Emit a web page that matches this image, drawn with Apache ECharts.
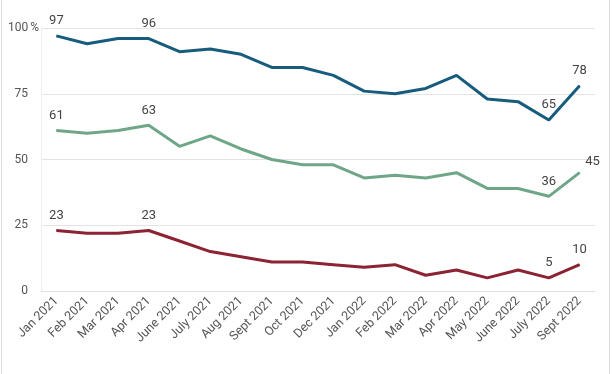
<!DOCTYPE html>
<html>
<head>
<meta charset="utf-8">
<script src="https://cdn.jsdelivr.net/npm/echarts@6/dist/echarts.min.js"></script>
<style>
html,body{margin:0;padding:0;background:#fff;}
#c{width:612px;height:374px;}
</style>
</head>
<body>
<div id="c"></div>
<script>
const categories = ['Jan 2021','Feb 2021','Mar 2021','Apr 2021','June 2021','July 2021','Aug 2021','Sept 2021','Oct 2021','Dec 2021','Jan 2022','Feb 2022','Mar 2022','Apr 2022','May 2022','June 2022','July 2022','Sept 2022'];
const blueValues  = [97,94,96,96,91,92,90,85,85,82,76,75,77,82,73,72,65,78];
const greenValues = [61,60,61,63,55,59,54,50,48,48,43,44,43,45,39,39,36,45];
const redValues   = [23,22,22,23,19,15,13,11,11,10,9,10,6,8,5,8,5,10];
const yTicks = [0,25,50,75,100];
const labeledIdx = [0,3,16,17];

function withLabels(vals){
  return vals.map((v,i)=>{
    if(labeledIdx.indexOf(i) < 0) return v;
    return {value:v, label:{show:true, position:'top', distance:8}};
  });
}

const chart = echarts.init(document.getElementById('c'), null, {renderer:'canvas'});
const labelStyle = {color:'#444', fontSize:13, fontFamily:'Roboto'};
function lineSeries(name, vals, color, shiftIdx){
  return {
    name, type:'line', data: withLabels(vals),
    symbol:'circle', symbolSize:1, showSymbol:true, showAllSymbol:true,
    smooth:false,
    lineStyle:{color, width:3},
    itemStyle:{color},
    label:Object.assign({show:false}, labelStyle),
    labelLayout: function(p){
      if(shiftIdx !== undefined && p.dataIndex === shiftIdx) return {dx:13, dy:4, hideOverlap:false};
      return {hideOverlap:false};
    },
    emphasis:{disabled:true},
    z:3
  };
}
chart.setOption({
  animation:false,
  backgroundColor:'#fff',
  grid:{left:41, right:17, top:28, bottom:83, containLabel:false},
  xAxis:{
    type:'category', data:categories, boundaryGap:true,
    axisLine:{show:true, lineStyle:{color:'#e0e0e0', width:1}},
    axisTick:{show:false},
    axisLabel:{rotate:45, color:'#555', fontSize:12.5, fontFamily:'Roboto', margin:8, interval:0}
  },
  yAxis:{
    type:'value', min:0, max:100, interval:25,
    axisLine:{show:true, lineStyle:{color:'#eeeeee'}},
    axisTick:{show:false},
    splitLine:{lineStyle:{color:'#e3e3e3', width:1}},
    axisLabel:{
      color:'#555', fontSize:12, fontFamily:'Roboto', margin:2,
      formatter: v => yTicks.indexOf(v) < 0 ? '' : (v === 100 ? '100{p|%}' : v + '{s|}'),
      rich:{p:{color:'#555', fontSize:12, fontFamily:'Roboto', padding:[0,0,0,2]}, s:{width:11}}
    }
  },
  graphic:[
    {type:'line', shape:{x1:1.5,y1:0,x2:1.5,y2:374}, style:{stroke:'#dddddd', lineWidth:1}},
    {type:'line', shape:{x1:609.5,y1:0,x2:609.5,y2:374}, style:{stroke:'#dddddd', lineWidth:1}}
  ],
  series:[
    lineSeries('blue', blueValues, '#175c7d'),
    lineSeries('green', greenValues, '#6fa688', 17),
    lineSeries('red', redValues, '#8c2333')
  ]
});
</script>
</body>
</html>
